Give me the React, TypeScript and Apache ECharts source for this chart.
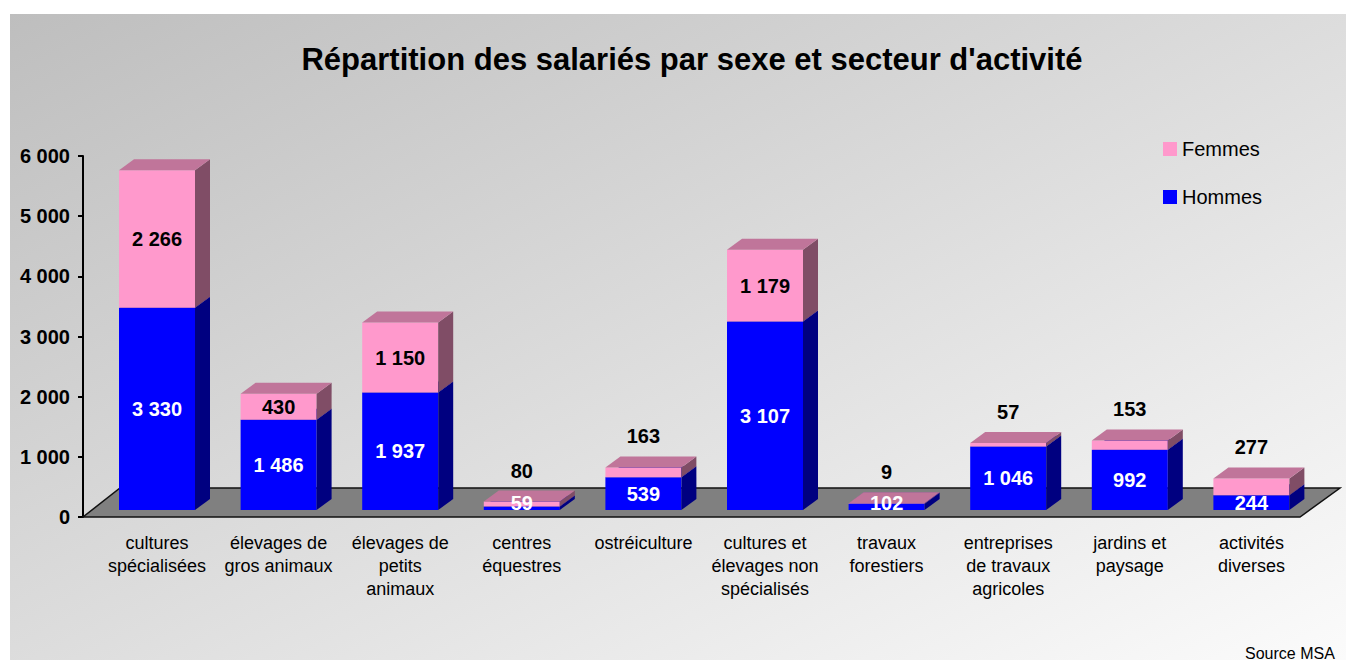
import React, { useEffect, useRef } from "react";
import * as echarts from "echarts";

const categories = [
  "cultures\nspécialisées",
  "élevages de\ngros animaux",
  "élevages de\npetits\nanimaux",
  "centres\néquestres",
  "ostréiculture",
  "cultures et\nélevages non\nspécialisés",
  "travaux\nforestiers",
  "entreprises\nde travaux\nagricoles",
  "jardins et\npaysage",
  "activités\ndiverses",
];
const hommes = [3330, 1486, 1937, 59, 539, 3107, 102, 1046, 992, 244];
const femmes = [2266, 430, 1150, 80, 163, 1179, 9, 57, 153, 277];
const yTicks = [0, 1000, 2000, 3000, 4000, 5000, 6000];

const FONT = "'Liberation Sans', Arial, sans-serif";
const DX = 15;
const DY = -11;
const BAR_RATIO = 0.625;

const fmt = (v: number) => String(v).replace(/\B(?=(\d{3})+(?!\d))/g, " ");

const COLORS = {
  hommes: { front: "#0000FF", side: "#000080", top: "#0000B0" },
  femmes: { front: "#FF99CC", side: "#804D66", top: "#C0759A" },
};

function geom(api: any, lo: number, hi: number) {
  const idx = api.value(0);
  const pLo = api.coord([idx, lo]);
  const pHi = api.coord([idx, hi]);
  const band = api.size([1, 0])[0];
  const w = band * BAR_RATIO;
  return { x0: pLo[0] - w / 2, x1: pLo[0] + w / 2, cx: pLo[0], yb: pLo[1], yt: pHi[1] };
}

function segmentRenderer(c: { front: string; side: string; top: string }) {
  return (params: any, api: any) => {
    const { x0, x1, yb, yt } = geom(api, api.value(1), api.value(2));
    return {
      type: "group",
      children: [
        { type: "polygon", shape: { points: [[x0, yb], [x1, yb], [x1, yt], [x0, yt]] }, style: { fill: c.front } },
        { type: "polygon", shape: { points: [[x1, yb], [x1 + DX, yb + DY], [x1 + DX, yt + DY], [x1, yt]] }, style: { fill: c.side } },
        { type: "polygon", shape: { points: [[x0, yt], [x1, yt], [x1 + DX, yt + DY], [x0 + DX, yt + DY]] }, style: { fill: c.top } },
      ],
    };
  };
}

function labelRenderer(params: any, api: any) {
  const h = api.value(1);
  const f = api.value(2);
  const gH = geom(api, 0, h);
  const gT = geom(api, h, h + f);
  const hy = Math.min((gH.yb + gH.yt) / 2, 503);
  const fPix = gT.yb - gT.yt;
  const fy = fPix < 20 ? gT.yt - 31 : (gT.yb + gT.yt) / 2;
  return {
    type: "group",
    children: [
      {
        type: "text",
        style: { text: fmt(h), x: gH.cx, y: hy, align: "center", verticalAlign: "middle", fill: "#FFFFFF", font: `bold 20px ${FONT}` },
      },
      {
        type: "text",
        style: { text: fmt(f), x: gT.cx, y: fy, align: "center", verticalAlign: "middle", fill: "#000000", font: `bold 20px ${FONT}` },
      },
    ],
  };
}

function floorRenderer(params: any, api: any) {
  const cs = params.coordSys;
  const yf = cs.y + cs.height;
  const xl = cs.x;
  const xr = cs.x + cs.width;
  return {
    type: "polygon",
    shape: { points: [[xl, yf], [xr, yf], [xr + 40, yf - 29], [xl + 37, yf - 29]] },
    style: { fill: "#808080", stroke: "#111111", lineWidth: 1.5 },
  };
}

export default function App() {
  const ref = useRef<HTMLDivElement>(null);
  useEffect(() => {
    if (!ref.current) return;
    const chart = echarts.init(ref.current, undefined, { renderer: "svg" });
    const hData = hommes.map((v, i) => [i, 0, v]);
    const fData = femmes.map((v, i) => [i, hommes[i], hommes[i] + v]);
    const lData = hommes.map((v, i) => [i, v, femmes[i]]);
    chart.setOption({
      animation: false,
      graphic: [
        {
          type: "rect",
          z: -10,
          shape: { x: 10, y: 14, width: 1336, height: 646 },
          style: {
            fill: new echarts.graphic.LinearGradient(0, 0, 1, 1, [
              { offset: 0, color: "#bebebe" },
              { offset: 1, color: "#fbfbfb" },
            ]),
          },
        },
        {
          type: "text",
          style: {
            text: "Répartition des salariés par sexe et secteur d'activité",
            x: 692,
            y: 59,
            align: "center",
            verticalAlign: "middle",
            fill: "#000",
            font: `bold 31px ${FONT}`,
          },
        },
        {
          type: "text",
          style: { text: "Source MSA", x: 1245, y: 653, align: "left", verticalAlign: "middle", fill: "#000", font: `16px ${FONT}` },
        },
      ],
      legend: {
        orient: "vertical",
        left: 1158,
        top: 134,
        itemWidth: 14,
        itemHeight: 14,
        itemGap: 28,
        textStyle: { fontSize: 20, color: "#000", fontFamily: FONT },
        data: [
          { name: "Femmes", icon: "rect", itemStyle: { color: COLORS.femmes.front } },
          { name: "Hommes", icon: "rect", itemStyle: { color: COLORS.hommes.front } },
        ],
      },
      grid: [
        { left: 83, top: 156, width: 1217, height: 361 },
        { left: 96.2, top: 145.8, width: 1216, height: 364.2 },
      ],
      xAxis: [
        { type: "category", gridIndex: 0, data: categories, show: false },
        {
          type: "category",
          gridIndex: 1,
          data: categories,
          axisLine: { show: false },
          axisTick: { show: false },
          axisLabel: { interval: 0, fontSize: 18, lineHeight: 23, color: "#000", fontFamily: FONT, margin: 21 },
        },
      ],
      yAxis: [
        {
          type: "value",
          gridIndex: 0,
          min: yTicks[0],
          max: yTicks[yTicks.length - 1],
          interval: 1000,
          axisLine: { show: true, lineStyle: { color: "#000", width: 2 } },
          axisTick: { show: true, length: 5, lineStyle: { color: "#000", width: 2 } },
          splitLine: { show: false },
          axisLabel: { formatter: (v: number) => fmt(v), fontSize: 20, fontWeight: "bold", color: "#000", fontFamily: FONT, margin: 13 },
        },
        { type: "value", gridIndex: 1, min: 0, max: 6000, show: false, splitLine: { show: false } },
      ],
      series: [
        {
          name: "floor",
          type: "custom",
          xAxisIndex: 0,
          yAxisIndex: 0,
          z: 1,
          silent: true,
          data: [[0, 0]],
          renderItem: floorRenderer,
        },
        {
          name: "Hommes",
          type: "custom",
          xAxisIndex: 1,
          yAxisIndex: 1,
          z: 3,
          itemStyle: { color: COLORS.hommes.front },
          encode: { x: 0, y: [1, 2] },
          data: hData,
          renderItem: segmentRenderer(COLORS.hommes),
        },
        {
          name: "Femmes",
          type: "custom",
          xAxisIndex: 1,
          yAxisIndex: 1,
          z: 4,
          itemStyle: { color: COLORS.femmes.front },
          encode: { x: 0, y: [1, 2] },
          data: fData,
          renderItem: segmentRenderer(COLORS.femmes),
        },
        {
          name: "labels",
          type: "custom",
          xAxisIndex: 1,
          yAxisIndex: 1,
          z: 6,
          silent: true,
          encode: { x: 0, y: 1 },
          data: lData,
          renderItem: labelRenderer,
        },
      ],
    });
    return () => chart.dispose();
  }, []);
  return <div ref={ref} style={{ position: "absolute", left: 0, top: 0, width: 1346, height: 660 }} />;
}
